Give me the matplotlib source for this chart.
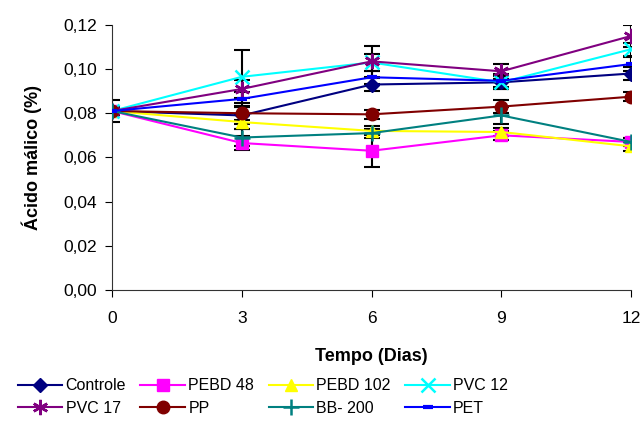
import matplotlib
matplotlib.use('Agg')
import matplotlib.pyplot as plt

plt.rcParams['font.family'] = ['Liberation Sans', 'DejaVu Sans']

dias = [0, 3, 6, 9, 12]
nomes = ['Controle', 'PEBD 48', 'PEBD 102', 'PVC 12', 'PVC 17', 'PP', 'BB- 200', 'PET']
controle = [0.081, 0.079, 0.093, 0.094, 0.098]
pebd48 = [0.081, 0.0665, 0.063, 0.070, 0.067]
pebd102 = [0.081, 0.076, 0.072, 0.0715, 0.065]
pvc12 = [0.081, 0.0965, 0.103, 0.094, 0.109]
pvc17 = [0.081, 0.091, 0.1035, 0.099, 0.115]
pp = [0.081, 0.080, 0.0795, 0.083, 0.0875]
bb200 = [0.081, 0.069, 0.071, 0.079, 0.067]
pet = [0.081, 0.0865, 0.0963, 0.0947, 0.1023]

err_controle = [0.005, 0.004, 0.003, 0.003, 0.003]
err_pebd48 = [0.002, 0.003, 0.0075, 0.002, 0.002]
err_pebd102 = [0.002, 0.003, 0.002, 0.002, 0.002]
err_pvc12 = [0.002, 0.012, 0.004, 0.003, 0.003]
err_pvc17 = [0.002, 0.004, 0.007, 0.0035, 0.005]
err_pp = [0.002, 0.003, 0.002, 0.003, 0.002]
err_bb200 = [0.002, 0.004, 0.002, 0.004, 0.002]
err_pet = [0.002, 0.003, 0.003, 0.003, 0.003]

series = [controle, pebd48, pebd102, pvc12, pvc17, pp, bb200, pet]
erros = [err_controle, err_pebd48, err_pebd102, err_pvc12, err_pvc17, err_pp, err_bb200, err_pet]
cores = ['#000080', '#FF00FF', '#FFFF00', '#00FFFF', '#800080', '#800000', '#008080', '#0000FF']
marcas = ['D', 's', '^', 'x', (6, 2, 0), 'o', '+', '_']
tamanhos = [7, 8, 9, 10, 11, 9, 11, 7]

fig = plt.figure(figsize=(6.44, 4.30), dpi=100)
ax = fig.add_axes([0.174, 0.326, 0.806, 0.616])

for y, e in zip(series, erros):
    ax.errorbar(dias, y, yerr=e, fmt='none', ecolor='black', elinewidth=1.5,
                capsize=6, capthick=1.5, zorder=2)

linhas = []
for y, nome, c, m, s in zip(series, nomes, cores, marcas, tamanhos):
    mew = 3 if m == '_' else (1.8 if m in ('x', '+', (6, 2, 0)) else 1)
    l, = ax.plot(dias, y, color=c, marker=m, markersize=s, markerfacecolor=c,
                 markeredgecolor=c, markeredgewidth=mew, linewidth=1.5, label=nome, zorder=3)
    linhas.append(l)

ax.set_xlim(0, 12)
ax.set_ylim(0, 0.12)
ax.set_xticks(dias)
ax.set_yticks([0, 0.02, 0.04, 0.06, 0.08, 0.10, 0.12])
ax.set_yticklabels(['0,00', '0,02', '0,04', '0,06', '0,08', '0,10', '0,12'])
ax.spines['top'].set_visible(False)
ax.spines['right'].set_visible(False)
ax.tick_params(labelsize=12.5, direction='out', length=5)
ax.tick_params(axis='x', pad=10)
ax.tick_params(axis='y', pad=6)
for a in ['left', 'bottom']:
    ax.spines[a].set_color('#333333')
ax.set_xlabel('Tempo (Dias)', fontsize=13, fontweight='bold', labelpad=16)
ax.set_ylabel('Ácido málico (%)', fontsize=13, fontweight='bold', labelpad=15)

# matplotlib fills legend columns first, reorder so rows read left to right
ordem = [0, 4, 1, 5, 2, 6, 3, 7]
fig.legend([linhas[i] for i in ordem], [nomes[i] for i in ordem],
           loc='lower left', bbox_to_anchor=(0.005, 0.0), ncol=4, frameon=False,
           fontsize=11.5, handlelength=2.8, columnspacing=0.9, handletextpad=0.2,
           labelspacing=0.45)

fig.savefig('out.png', dpi=100)
